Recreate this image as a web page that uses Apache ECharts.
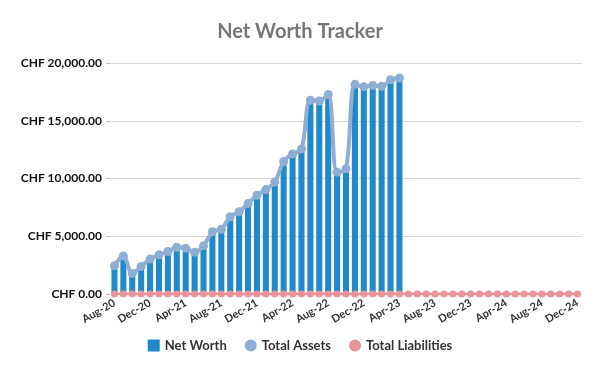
<!DOCTYPE html>
<html>
<head>
<meta charset="utf-8">
<script src="https://cdn.jsdelivr.net/npm/echarts@6/dist/echarts.min.js"></script>
<style>html,body{margin:0;padding:0;background:#fff}#c{width:600px;height:371px}</style>
</head>
<body>
<div id="c"></div>
<script>
const months = ["Aug-20","Sep-20","Oct-20","Nov-20","Dec-20","Jan-21","Feb-21","Mar-21","Apr-21","May-21","Jun-21","Jul-21",
"Aug-21","Sep-21","Oct-21","Nov-21","Dec-21","Jan-22","Feb-22","Mar-22","Apr-22","May-22","Jun-22","Jul-22",
"Aug-22","Sep-22","Oct-22","Nov-22","Dec-22","Jan-23","Feb-23","Mar-23","Apr-23","May-23","Jun-23","Jul-23",
"Aug-23","Sep-23","Oct-23","Nov-23","Dec-23","Jan-24","Feb-24","Mar-24","Apr-24","May-24","Jun-24","Jul-24",
"Aug-24","Sep-24","Oct-24","Nov-24","Dec-24"];
const totalAssets = [2450,3300,1780,2390,3020,3390,3680,4050,3970,3620,4170,5400,
5600,6690,7120,7830,8550,9040,9690,11470,12130,12560,16770,16710,
17280,10550,10840,18150,17950,18050,17980,18550,18700];
const netWorth = [2300,3150,1650,2250,2880,3250,3550,3900,3830,3480,4030,5250,
5450,6550,6980,7700,8400,8900,9550,11330,12000,12420,16620,16570,
17130,10300,10600,18000,17800,17900,17830,18400,18550];
const totalLiabilities = [0,0,0,0,0,0,0,0,0,0,0,0,0,0,0,0,0,0,0,0,0,0,0,0,0,0,0,0,0,0,0,0,0,
0,0,0,0,0,0,0,0,0,0,0,0,0,0,0,0,0,0,0,0];

const chart = echarts.init(document.getElementById('c'));
const font = 'Lato';
chart.setOption({
  animation: false,
  title: {
    text: 'Net Worth Tracker', left: 'center', top: 17,
    textStyle: { fontFamily: font, fontSize: 20, fontWeight: 'bold', color: '#767676' }
  },
  legend: {
    bottom: 14, left: 'center', itemWidth: 12, itemHeight: 12, itemGap: 18,
    textStyle: { fontFamily: font, fontSize: 13, fontWeight: 'bold', color: '#333' },
    data: [
      { name: 'Net Worth', icon: 'rect' },
      { name: 'Total Assets', icon: 'circle' },
      { name: 'Total Liabilities', icon: 'circle' }
    ]
  },
  grid: { left: 110, right: 18, top: 63, bottom: 77 },
  xAxis: {
    type: 'category', data: months, boundaryGap: true,
    axisLine: { lineStyle: { color: '#D9D9D9' } },
    axisTick: { show: false },
    axisLabel: { interval: 3, rotate: 30, fontFamily: font, fontSize: 11, fontWeight: 'bold', color: '#333', margin: 8 }
  },
  yAxis: {
    type: 'value', min: 0, max: 20000, interval: 5000,
    axisLine: { show: false },
    axisTick: { show: true, length: 4, lineStyle: { color: '#BFBFBF' } },
    splitLine: { lineStyle: { color: '#D9D9D9' } },
    axisLabel: {
      fontFamily: font, fontSize: 12, fontWeight: 'bold', color: '#111', margin: 8,
      formatter: v => 'CHF ' + (v === 0 ? '0.00' : v.toLocaleString('en-US', { minimumFractionDigits: 2 }))
    }
  },
  series: [
    { name: 'Net Worth', type: 'bar', data: netWorth, barCategoryGap: '32%',
      itemStyle: { color: '#2089CB' } },
    { name: 'Total Assets', type: 'line', data: totalAssets, smooth: 0.35,
      symbol: 'circle', symbolSize: 9, showAllSymbol: true,
      lineStyle: { color: '#8FAED3', width: 4 }, itemStyle: { color: '#8FAED3' } },
    { name: 'Total Liabilities', type: 'line', data: totalLiabilities, smooth: true,
      symbol: 'circle', symbolSize: 7, showAllSymbol: true,
      lineStyle: { color: '#E8959A', width: 3 }, itemStyle: { color: '#E8959A' } }
  ]
});
</script>
</body>
</html>
